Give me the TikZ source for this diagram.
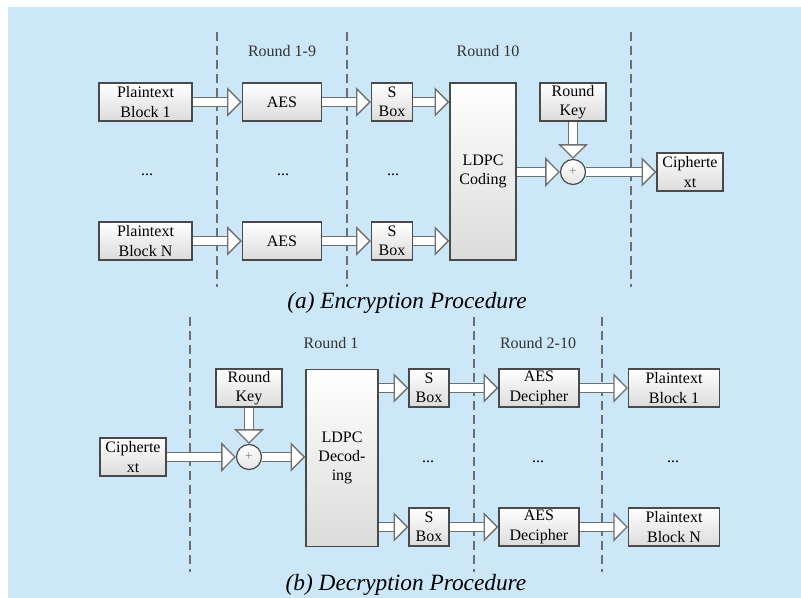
\documentclass[tikz,border=0pt]{standalone}
\usepackage{fontspec}
\setmainfont{Liberation Serif}
\usepackage{tikz}
\usetikzlibrary{arrows.meta,calc,positioning}
\definecolor{paleblue}{HTML}{CCE8F8}
\definecolor{boxline}{HTML}{4A4A4A}
\definecolor{arrowline}{HTML}{707070}
\definecolor{dashgray}{HTML}{6E6E6E}

\begin{document}
\begin{tikzpicture}[x=0.75pt,y=-0.75pt,
    blk/.style={draw=boxline,line width=1.1pt,top color=white,bottom color=gray!28,
      align=center,inner sep=0pt,font=\fontsize{12}{14.5}\selectfont,
      minimum height=28.5pt},
    xorc/.style={circle,draw=boxline,line width=0.9pt,top color=white,
      bottom color=gray!20,minimum size=18.75pt,inner sep=0pt,text=gray},
    fat/.style={draw=arrowline,line width=1pt,double=white,double distance=6pt,
      -{Triangle[open,fill=white,length=11pt,width=22pt,line width=1pt]}},
    sep/.style={draw=dashgray,line width=1pt,dash pattern=on 7pt off 3.5pt},
    lbl/.style={font=\fontsize{12}{14}\selectfont,text=black!80},
    capt/.style={font=\fontsize{17.5}{20}\selectfont\itshape},
    dots/.style={font=\fontsize{12}{14}\selectfont}]
  \useasboundingbox (0,0) rectangle (801,598);
  \fill[paleblue] (8,7) rectangle (801,598);

  % (a) encryption
  \draw[sep] (217,32) -- (217,287);
  \draw[sep] (347,32) -- (347,287);
  \draw[sep] (631,32) -- (631,287);
  \node[lbl] (r19) at (282,51) {Round 1-9};
  \node[lbl] (r10) at (488,51) {Round 10};

  \node[blk,minimum width=69.75pt] (pb1) at (145.5,102) {Plaintext\\Block 1};
  \node[blk,minimum width=69.75pt] (pbn) at (145.5,241) {Plaintext\\Block N};
  \node[blk,minimum width=59.25pt] (aes1) at (282,102) {AES};
  \node[blk,minimum width=59.25pt] (aesn) at (282,241) {AES};
  \node[blk,minimum width=30.75pt] (sb1) at (392,102) {S\\Box};
  \node[blk,minimum width=30.75pt] (sbn) at (392,241) {S\\Box};
  \node[blk,minimum width=49.5pt,minimum height=132.75pt] (ldpc) at (483,171.5)
    {LDPC\\Coding};
  \node[blk,minimum width=49.5pt] (key) at (573,102) {Round\\Key};
  \node[xorc] (xor) at (573,172) {+};
  \node[blk,minimum width=49.5pt] (ct) at (690,172) {Cipherte\\xt};
  \node[dots] (d1) at (147,175) {...};
  \node[dots] (d2) at (283,175) {...};
  \node[dots] (d3) at (393,175) {...};

  \draw[fat] (pb1.east) -- (aes1.west);
  \draw[fat] (pbn.east) -- (aesn.west);
  \draw[fat] (aes1.east) -- (sb1.west);
  \draw[fat] (aesn.east) -- (sbn.west);
  \draw[fat] (sb1.east) -- (sb1 -| ldpc.west);
  \draw[fat] (sbn.east) -- (sbn -| ldpc.west);
  \draw[fat] (ldpc.east |- xor) -- (xor.west);
  \draw[fat] (key.south) -- (xor.north);
  \draw[fat] (xor.east) -- (ct.west);

  \node[capt] (capa) at (407,303) {(a) Encryption Procedure};

  % (b) decryption
  \draw[sep] (190,317) -- (190,572);
  \draw[sep] (474,317) -- (474,572);
  \draw[sep] (602,317) -- (602,572);
  \node[lbl] (r1) at (331,343) {Round 1};
  \node[lbl] (r210) at (538,343) {Round 2-10};

  \node[blk,minimum width=49.5pt] (ct2) at (133,457) {Cipherte\\xt};
  \node[blk,minimum width=49.5pt] (key2) at (249,388) {Round\\Key};
  \node[xorc] (xor2) at (249,457) {+};
  \node[blk,minimum width=54pt,minimum height=132.75pt] (ldpc2) at (342,458)
    {LDPC\\Decod-\\ing};
  \node[blk,minimum width=30pt] (sbd1) at (429,388) {S\\Box};
  \node[blk,minimum width=30pt] (sbdn) at (429,527) {S\\Box};
  \node[blk,minimum width=60pt] (dec1) at (539,388) {AES\\Decipher};
  \node[blk,minimum width=60pt] (decn) at (539,527) {AES\\Decipher};
  \node[blk,minimum width=68pt] (pd1) at (674,388) {Plaintext\\Block 1};
  \node[blk,minimum width=68pt] (pdn) at (674,527) {Plaintext\\Block N};
  \node[dots] (d4) at (428,462) {...};
  \node[dots] (d5) at (538,462) {...};
  \node[dots] (d6) at (673,462) {...};

  \draw[fat] (ct2.east) -- (xor2.west);
  \draw[fat] (key2.south) -- (xor2.north);
  \draw[fat] (xor2.east) -- (xor2 -| ldpc2.west);
  \draw[fat] (sbd1 -| ldpc2.east) -- (sbd1.west);
  \draw[fat] (sbdn -| ldpc2.east) -- (sbdn.west);
  \draw[fat] (sbd1.east) -- (dec1.west);
  \draw[fat] (sbdn.east) -- (decn.west);
  \draw[fat] (dec1.east) -- (pd1.west);
  \draw[fat] (decn.east) -- (pdn.west);

  \node[capt] (capb) at (406,585) {(b) Decryption Procedure};
\end{tikzpicture}
\end{document}
